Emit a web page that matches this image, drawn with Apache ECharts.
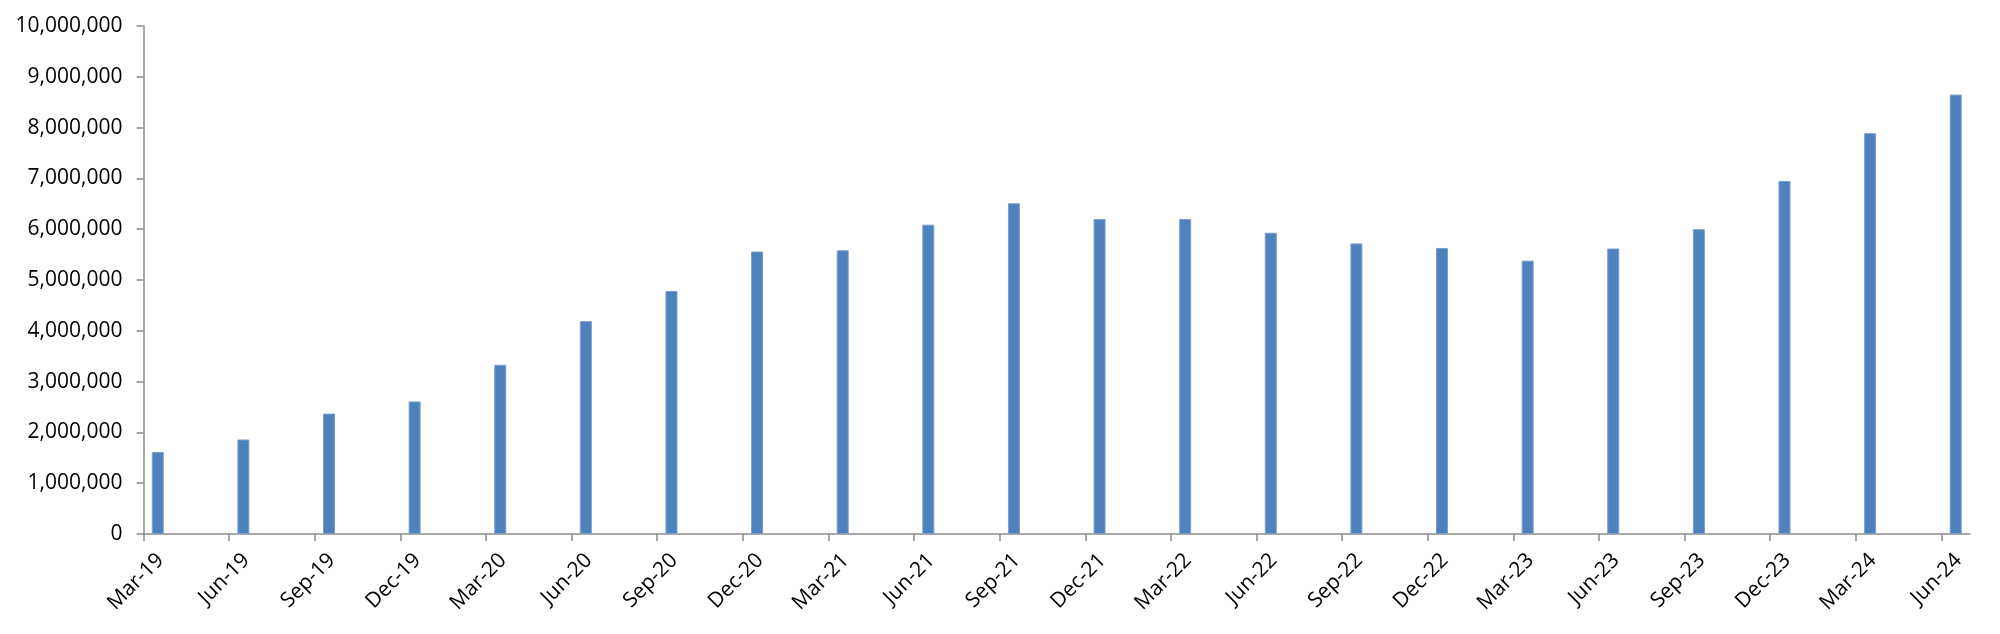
<!DOCTYPE html>
<html>
<head>
<meta charset="utf-8">
<script src="https://cdn.jsdelivr.net/npm/echarts@6/dist/echarts.min.js"></script>
<style>
  html, body { margin: 0; padding: 0; background: #fff; }
  #chart { width: 2000px; height: 634px; }
</style>
</head>
<body>
<div id="chart"></div>
<script>
// quarter labels (one tick every 3 months)
const quarters = ['Mar-19', 'Jun-19', 'Sep-19', 'Dec-19', 'Mar-20', 'Jun-20', 'Sep-20', 'Dec-20',
  'Mar-21', 'Jun-21', 'Sep-21', 'Dec-21', 'Mar-22', 'Jun-22', 'Sep-22', 'Dec-22',
  'Mar-23', 'Jun-23', 'Sep-23', 'Dec-23', 'Mar-24', 'Jun-24']
// values
const values = [1615000, 1860000, 2370000, 2610000, 3330000, 4190000, 4785000, 5560000,
  5585000, 6090000, 6510000, 6200000, 6200000, 5930000, 5720000, 5630000,
  5380000, 5620000, 6000000, 6950000, 7890000, 8650000]
const yTicks = [0, 1000000, 2000000, 3000000, 4000000, 5000000, 6000000, 7000000, 8000000, 9000000, 10000000]

// the x axis runs in months, one quarter = 3 months, bar sits mid-month
const monthsTotal = quarters.length * 3 - 2
const tickPos = quarters.map((q, i) => i * 3)
const labelPos = quarters.map((q, i) => i * 3 + 0.6)

const chart = echarts.init(document.getElementById('chart'))
const axisColor = '#8c8c8c'
const font = 'Open Sans'

chart.setOption({
  animation: false,
  grid: { left: 143.5, right: 30, top: 26, bottom: 100 },
  xAxis: {
    type: 'value',
    min: 0,
    max: monthsTotal,
    splitLine: { show: false },
    axisLine: { lineStyle: { color: axisColor, width: 1.5 } },
    axisTick: { customValues: tickPos, length: 7, lineStyle: { color: axisColor, width: 1.5 } },
    axisLabel: {
      customValues: labelPos,
      rotate: 45,
      margin: 23,
      fontFamily: font,
      fontSize: 21,
      color: '#000',
      formatter: v => quarters[Math.round((v - 0.6) / 3)] || ''
    }
  },
  yAxis: {
    type: 'value',
    min: yTicks[0],
    max: yTicks[yTicks.length - 1],
    interval: yTicks[1] - yTicks[0],
    splitLine: { show: false },
    axisLine: { show: true, lineStyle: { color: axisColor, width: 1.5 } },
    axisTick: { show: true, length: 7, lineStyle: { color: axisColor, width: 1.5 } },
    axisLabel: {
      margin: 21,
      fontFamily: font,
      fontSize: 21,
      color: '#000',
      formatter: v => v.toLocaleString('en-US')
    }
  },
  series: [{
    type: 'bar',
    barWidth: 12,
    itemStyle: { color: '#4f81bd', borderColor: '#7a9fcf', borderWidth: 1 },
    data: values.map((v, i) => [i * 3 + 0.5, v])
  }]
})
</script>
</body>
</html>
